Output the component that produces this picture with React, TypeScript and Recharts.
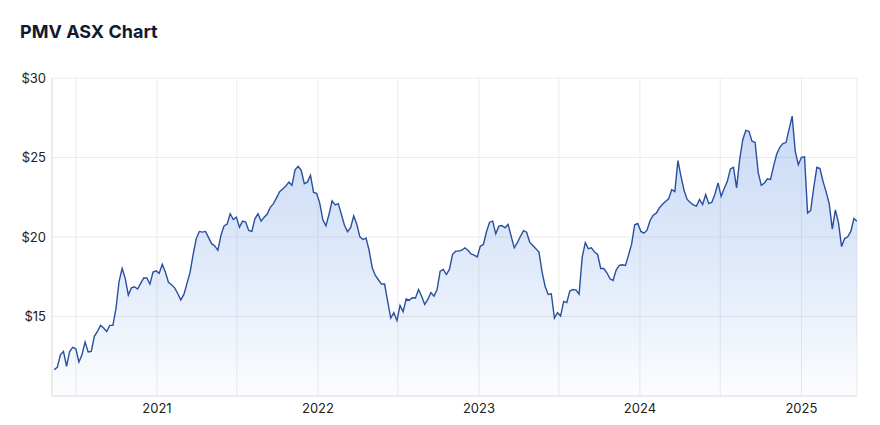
import { Area, AreaChart, CartesianGrid, XAxis, YAxis } from "recharts";

// Weekly closes (AUD), first week 13 May 2020
const PRICES = [
  11.66, 11.8, 12.59, 12.8, 11.87, 12.8, 13.06, 12.97, 12.14, 12.6,
  13.39, 12.77, 12.8, 13.75, 14.06, 14.44, 14.28, 14.06, 14.44, 14.44,
  15.5, 17.2, 18.02, 17.4, 16.35, 16.8, 16.87, 16.73, 17.08, 17.42,
  17.42, 17.04, 17.8, 17.87, 17.71, 18.28, 17.8, 17.15, 17.0, 16.8,
  16.45, 16.04, 16.39, 17.08, 17.77, 18.9, 19.9, 20.35, 20.31, 20.35,
  19.96, 19.58, 19.44, 19.16, 20.1, 20.69, 20.81, 21.46, 21.1, 21.25,
  20.62, 21.0, 20.94, 20.41, 20.35, 21.14, 21.46, 21.0, 21.25, 21.44,
  21.87, 22.1, 22.46, 22.85, 23.02, 23.2, 23.45, 23.25, 24.22, 24.45,
  24.2, 23.35, 23.45, 23.88, 22.8, 22.75, 22.13, 21.08, 20.7, 21.43,
  22.27, 22.02, 22.1, 21.44, 20.74, 20.33, 20.58, 21.33, 20.8, 20.01,
  19.84, 19.93, 19.15, 18.06, 17.58, 17.31, 17.04, 17.04, 15.95, 14.9,
  15.24, 14.74, 15.7, 15.3, 16.1, 16.03, 16.18, 16.16, 16.7, 16.28,
  15.76, 16.07, 16.5, 16.28, 16.7, 17.85, 17.96, 17.64, 17.96, 18.9,
  19.11, 19.11, 19.17, 19.32, 19.17, 18.94, 18.86, 18.75, 19.42, 19.53,
  20.33, 20.93, 21.0, 20.2, 20.68, 20.72, 20.58, 20.79, 20.05, 19.32,
  19.64, 20.05, 20.4, 20.3, 19.67, 19.47, 19.26, 19.05, 17.81, 16.89,
  16.39, 16.43, 14.9, 15.24, 15.03, 15.95, 15.87, 16.6, 16.7, 16.66,
  16.41, 18.73, 19.65, 19.26, 19.32, 19.05, 18.9, 18.02, 18.02, 17.75,
  17.37, 17.27, 17.92, 18.21, 18.25, 18.21, 18.86, 19.55, 20.77, 20.85,
  20.35, 20.24, 20.43, 21.04, 21.37, 21.5, 21.83, 22.06, 22.23, 22.4,
  22.98, 22.86, 24.8, 23.82, 22.92, 22.36, 22.17, 22.02, 21.94, 22.36,
  22.04, 22.67, 22.1, 22.19, 22.71, 23.4, 22.56, 23.05, 23.5, 24.28,
  24.38, 23.09, 24.87, 26.12, 26.71, 26.65, 26.02, 25.95, 24.07, 23.25,
  23.4, 23.66, 23.62, 24.47, 25.22, 25.64, 25.87, 25.94, 26.77, 27.6,
  25.39, 24.54, 25.01, 25.04, 21.5, 21.67, 23.13, 24.38, 24.3, 23.5,
  22.84, 22.1, 20.5, 21.7, 20.9, 19.4, 19.9, 20.01, 20.35, 21.16,
  20.99,
];

const FIRST_WEEK = Date.UTC(2020, 4, 13);
const WEEK = 7 * 24 * 3600 * 1000;

// grid every half year, labels only on January
const X_TICKS = [
  Date.UTC(2020, 6, 1),
  Date.UTC(2021, 0, 1),
  Date.UTC(2021, 6, 1),
  Date.UTC(2022, 0, 1),
  Date.UTC(2022, 6, 1),
  Date.UTC(2023, 0, 1),
  Date.UTC(2023, 6, 1),
  Date.UTC(2024, 0, 1),
  Date.UTC(2024, 6, 1),
  Date.UTC(2025, 0, 1),
];
const Y_TICKS = [15, 20, 25, 30];

const data = PRICES.map((price, i) => ({ t: FIRST_WEEK + i * WEEK, price }));

const FONT = "Inter, 'Noto Sans', sans-serif";
const GRID = "#ebebeb";

export default function App() {
  return (
    <div
      style={{
        position: "absolute",
        left: 0,
        top: 0,
        width: 880,
        height: 425,
        background: "#fff",
        fontFamily: FONT,
      }}
    >
      <div
        style={{
          position: "absolute",
          left: 20,
          top: 23,
          fontSize: 18,
          lineHeight: "18px",
          fontWeight: 700,
          color: "#141a2e",
        }}
      >
        PMV ASX Chart
      </div>
      <div style={{ position: "absolute", left: 0, top: 0 }}>
        <AreaChart
          width={880}
          height={425}
          data={data}
          margin={{ top: 78, right: 23, bottom: 8, left: 0 }}
        >
          <defs>
            <linearGradient id="pmvFill" x1="0" y1="0" x2="0" y2="1">
              <stop offset="0%" stopColor="#4a84e0" stopOpacity={0.5} />
              <stop offset="50%" stopColor="#4a84e0" stopOpacity={0.3} />
              <stop offset="100%" stopColor="#4a84e0" stopOpacity={0.03} />
            </linearGradient>
          </defs>
          <CartesianGrid stroke={GRID} />
          <XAxis
            dataKey="t"
            type="number"
            scale="time"
            domain={[Date.UTC(2020, 4, 8), Date.UTC(2025, 4, 7)]}
            ticks={X_TICKS}
            tickFormatter={(v: number) => {
              const d = new Date(v);
              return d.getUTCMonth() === 0 ? String(d.getUTCFullYear()) : "";
            }}
            height={21}
            axisLine={{ stroke: "#e2e2e2" }}
            tickLine={false}
            tickSize={6}
            tickMargin={2}
            tick={{ fill: "#222", fontSize: 13, fontFamily: FONT }}
            allowDataOverflow
          />
          <YAxis
            type="number"
            domain={[10, 30]}
            ticks={Y_TICKS}
            tickFormatter={(v: number) => `$${v}`}
            width={52}
            axisLine={{ stroke: "#e2e2e2" }}
            tickLine={false}
            tickSize={6}
            tickMargin={0}
            tick={{ fill: "#222", fontSize: 13, fontFamily: FONT }}
          />
          <Area
            type="linear"
            dataKey="price"
            stroke="#2a4f9e"
            strokeWidth={1.4}
            fill="url(#pmvFill)"
            dot={false}
            activeDot={false}
            isAnimationActive={false}
          />
        </AreaChart>
      </div>
    </div>
  );
}
